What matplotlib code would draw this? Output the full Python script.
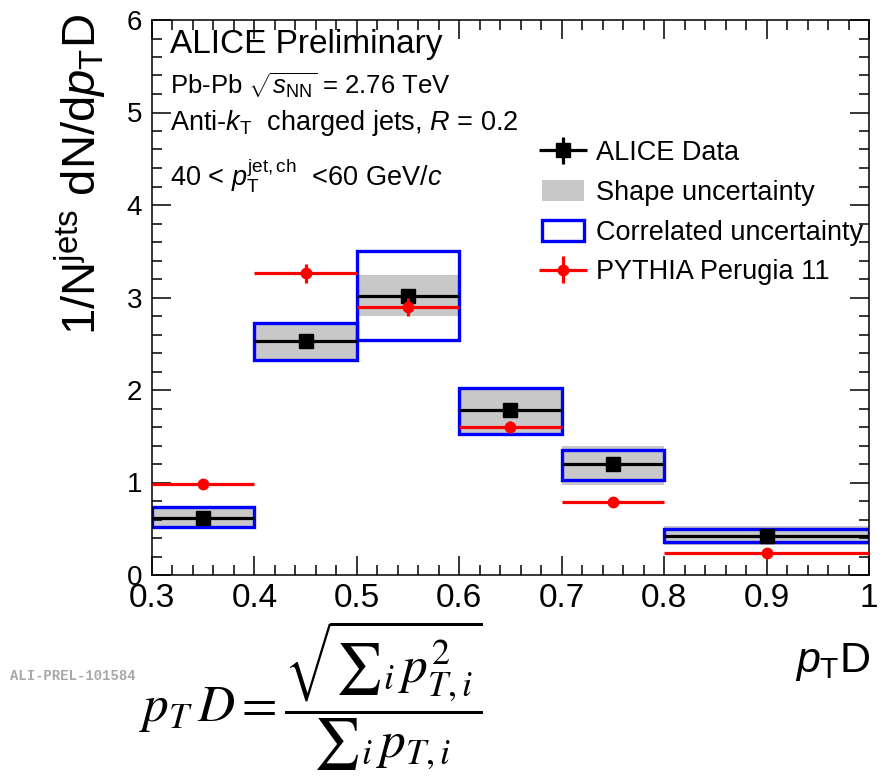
import matplotlib
matplotlib.use("Agg")
import matplotlib.pyplot as plt
from matplotlib.patches import Rectangle, Patch
from matplotlib.ticker import MultipleLocator
from matplotlib.legend_handler import HandlerErrorbar

plt.rcParams['font.family'] = ['Liberation Sans', 'DejaVu Sans']
plt.rcParams['mathtext.fontset'] = 'custom'
plt.rcParams['mathtext.rm'] = 'Liberation Sans'
plt.rcParams['mathtext.it'] = 'Liberation Sans:italic'
plt.rcParams['mathtext.bf'] = 'Liberation Sans:bold'

# ---- data ----
bin_lo = [0.3, 0.4, 0.5, 0.6, 0.7, 0.8]
bin_hi = [0.4, 0.5, 0.6, 0.7, 0.8, 1.0]
data_y = [0.62, 2.53, 3.02, 1.78, 1.20, 0.42]
data_err = [0.03, 0.04, 0.04, 0.04, 0.03, 0.02]
shape_lo = [0.52, 2.32, 2.80, 1.52, 0.97, 0.32]
shape_hi = [0.73, 2.72, 3.24, 2.02, 1.40, 0.53]
corr_lo = [0.52, 2.32, 2.54, 1.52, 1.03, 0.36]
corr_hi = [0.73, 2.72, 3.50, 2.02, 1.35, 0.50]
pythia_y = [0.98, 3.26, 2.90, 1.60, 0.79, 0.24]
pythia_err = [0.03, 0.10, 0.10, 0.06, 0.03, 0.02]
xtick_vals = [0.3, 0.4, 0.5, 0.6, 0.7, 0.8, 0.9, 1.0]
xtick_labels = ['0.3', '0.4', '0.5', '0.6', '0.7', '0.8', '0.9', '1']

centers = [(a + b) / 2 for a, b in zip(bin_lo, bin_hi)]
halfw = [(b - a) / 2 for a, b in zip(bin_lo, bin_hi)]

fig = plt.figure(figsize=(8.84, 7.81), dpi=100)
ax = fig.add_axes([152/884, 1-575/781, (869-152)/884, (575-20)/781])

for lo, hi, s_lo, s_hi, c_lo, c_hi in zip(bin_lo, bin_hi, shape_lo, shape_hi, corr_lo, corr_hi):
    ax.add_patch(Rectangle((lo, s_lo), hi - lo, s_hi - s_lo, facecolor='#c8c8c8',
                           edgecolor='none', zorder=1))
    ax.add_patch(Rectangle((lo, c_lo), hi - lo, c_hi - c_lo, facecolor='none',
                           edgecolor='#0000ff', linewidth=2.4, zorder=2))

eb_data = ax.errorbar(centers, data_y, xerr=halfw, yerr=data_err, fmt='s', color='black',
                      ms=10, elinewidth=2.3, capsize=0, zorder=3)
eb_py = ax.errorbar(centers, pythia_y, xerr=halfw, yerr=pythia_err, fmt='o', color='#ff0000',
                    ms=7.5, elinewidth=2.3, capsize=0, zorder=4)

ax.set_xlim(0.3, 1.0)
ax.set_ylim(0, 6)
ax.xaxis.set_minor_locator(MultipleLocator(0.02))
ax.yaxis.set_major_locator(MultipleLocator(1))
ax.yaxis.set_minor_locator(MultipleLocator(0.2))
ax.set_xticks(xtick_vals)
ax.set_xticklabels(xtick_labels)
ax.tick_params(which='both', direction='in', top=True, right=True, width=1.1)
ax.tick_params(which='major', length=14)
ax.tick_params(which='minor', length=7)
ax.tick_params(axis='x', which='major', labelsize=24, pad=6)
ax.tick_params(axis='y', which='major', labelsize=20, pad=7)
for sp in ax.spines.values():
    sp.set_linewidth(1.1)

# axis titles
fig.text(80/884, 1-14/781, r'1/N$^{\rm jets}$ dN/d$p_{\rm T}$D', rotation=90,
         ha='center', va='top', fontsize=34)
fig.text(870/884, 1-662/781, r'$p_{\rm T}$D', ha='right', va='center', fontsize=31)

# annotations
ax.text(170/884, 1-45/781, 'ALICE Preliminary', transform=fig.transFigure,
        fontsize=24, va='center', ha='left')
ax.text(170/884, 1-86/781, r'Pb-Pb $\sqrt{s_{\rm NN}}$ = 2.76 TeV', transform=fig.transFigure,
        fontsize=18.5, va='center', ha='left')
ax.text(170/884, 1-123/781, r'Anti-$k_{\rm T}$  charged jets, $R$ = 0.2', transform=fig.transFigure,
        fontsize=19.5, va='center', ha='left')
ax.text(170/884, 1-176/781, r'40 < $p_{\rm T}^{\rm jet,ch}$  <60 GeV/$c$', transform=fig.transFigure,
        fontsize=19.5, va='center', ha='left')

handles = [eb_data,
           Patch(facecolor='#c8c8c8', edgecolor='none'),
           Patch(facecolor='white', edgecolor='#0000ff', linewidth=2.4),
           eb_py]
labels = ['ALICE Data', 'Shape uncertainty', 'Correlated uncertainty', 'PYTHIA Perugia 11']
ax.legend(handles, labels, loc='upper left', bbox_to_anchor=(542/884, 1-140/781),
          bbox_transform=fig.transFigure, frameon=False, fontsize=19.5,
          handlelength=1.55, handleheight=0.8, handletextpad=0.45, labelspacing=0.51,
          borderpad=0, borderaxespad=0,
          handler_map={type(eb_data): HandlerErrorbar(xerr_size=0.9, yerr_size=0.5)})

fig.text(10/884, 1-676/781, 'ALI-PREL-101584', fontsize=10, color='#a8a8a8',
         family='Liberation Mono', weight='bold', ha='left', va='center')
fig.text(311/884, 1-696/781,
         r'$p_T\,D = \dfrac{\sqrt{{\sum}_i\, p_{T,i}^2}}{{\sum}_i\, p_{T,i}}$',
         math_fontfamily='stix', fontsize=37, ha='center', va='center')

fig.savefig('out.png', dpi=100)
